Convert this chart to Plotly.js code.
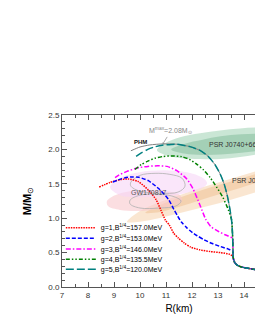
<!DOCTYPE html>
<html><head><meta charset="utf-8">
<script src="https://cdn.plot.ly/plotly-3.0.1.min.js"></script>
<style>html,body{margin:0;padding:0;overflow:hidden;background:#fff;width:255px;height:330px}#chart{width:310px;height:330px}</style>
</head><body><div id="chart"></div><script>
// ---- curve data (R in km, M in solar masses) ----
const tailR = [13.58, 13.60, 13.65, 13.75, 13.90, 14.10, 14.42, 15.00, 15.60, 16.30];
const tailM = [0.445, 0.40, 0.35, 0.315, 0.29, 0.275, 0.255, 0.23, 0.21, 0.19];

const phmR = [9.65, 10.0, 10.38, 10.88, 11.42, 11.92, 12.31, 12.62, 12.88, 13.08, 13.23, 13.35, 13.44, 13.52, 13.56, 13.575];
const phmM = [1.98, 2.035, 2.065, 2.08, 2.075, 2.04, 1.985, 1.90, 1.78, 1.645, 1.505, 1.34, 1.17, 0.98, 0.76, 0.55];

const g1R = [8.43, 8.85, 9.23, 9.54, 9.92, 10.31, 10.62, 10.80, 10.98, 11.13, 11.30, 11.48, 11.70, 11.95, 12.30, 12.70, 13.10, 13.45];
const g1M = [1.453, 1.52, 1.56, 1.57, 1.535, 1.414, 1.269, 1.12, 0.97, 0.90, 0.78, 0.71, 0.64, 0.58, 0.54, 0.515, 0.50, 0.475];

const g2R = [8.95, 9.30, 9.65, 9.95, 10.32, 10.75, 11.10, 11.30, 11.45, 11.60, 11.80, 12.02, 12.20, 12.45, 12.75, 13.08, 13.40, 13.57];
const g2M = [1.525, 1.575, 1.60, 1.595, 1.545, 1.42, 1.27, 1.13, 1.03, 0.94, 0.86, 0.79, 0.745, 0.69, 0.635, 0.59, 0.55, 0.52];

const g3R = [9.04, 9.20, 9.50, 9.90, 10.30, 10.68, 11.04, 11.42, 11.80, 12.05, 12.22, 12.38, 12.52, 12.72, 12.98, 13.27, 13.55, 13.575];
const g3M = [1.589, 1.63, 1.68, 1.73, 1.753, 1.762, 1.753, 1.69, 1.57, 1.42, 1.27, 1.12, 0.99, 0.88, 0.815, 0.76, 0.71, 0.55];

const g4R = [9.81, 10.05, 10.30, 10.60, 10.90, 11.25, 11.60, 11.90, 12.20, 12.45, 12.70, 12.95, 13.19, 13.40, 13.52, 13.56, 13.575];
const g4M = [1.71, 1.78, 1.83, 1.875, 1.898, 1.905, 1.895, 1.855, 1.78, 1.70, 1.59, 1.45, 1.30, 1.12, 0.98, 0.76, 0.55];

const g5R = [9.85, 10.05, 10.30, 10.55, 10.85, 11.2, 11.42, 11.92, 12.31, 12.62, 12.88, 13.08, 13.23, 13.35, 13.44, 13.52, 13.56, 13.575];
const g5M = [1.90, 1.95, 2.00, 2.035, 2.06, 2.072, 2.075, 2.04, 1.985, 1.90, 1.78, 1.645, 1.505, 1.34, 1.17, 0.98, 0.76, 0.55];

const seriesNames = [
  'g=1,B<sup>1/4</sup>=157.0MeV',
  'g=2,B<sup>1/4</sup>=153.0MeV',
  'g=3,B<sup>1/4</sup>=146.0MeV',
  'g=4,B<sup>1/4</sup>=135.5MeV',
  'g=5,B<sup>1/4</sup>=120.0MeV'
];

const xTickVals = [7, 8, 9, 10, 11, 12, 13, 14];

const j0740OuterR = [10.65, 10.96, 11.54, 12.31, 13.08, 13.85, 14.62, 15.38, 16.15, 16.54, 16.15, 15.38, 14.62, 13.85, 13.08, 12.31, 11.54, 10.96, 10.65];
const j0740OuterM = [1.99, 2.09, 2.176, 2.233, 2.276, 2.304, 2.319, 2.319, 2.29, 2.19, 2.047, 1.976, 1.933, 1.89, 1.86, 1.86, 1.876, 1.919, 1.99];
const j0740InnerR = [11.2, 11.7, 12.4, 13.1, 13.9, 14.7, 15.4, 15.8, 15.4, 14.7, 13.9, 13.1, 12.4, 11.7, 11.2];
const j0740InnerM = [2.0, 2.08, 2.14, 2.19, 2.22, 2.23, 2.22, 2.15, 2.05, 1.99, 1.95, 1.925, 1.92, 1.94, 2.0];

const j0030OuterR = [9.5, 10.0, 10.77, 11.54, 12.31, 13.08, 13.85, 14.62, 15.38, 16.15, 16.54, 16.15, 15.38, 14.62, 13.85, 13.08, 12.31, 11.54, 10.77, 10.0, 9.5];
const j0030OuterM = [0.946, 1.106, 1.236, 1.338, 1.439, 1.526, 1.613, 1.70, 1.772, 1.845, 1.78, 1.583, 1.483, 1.396, 1.309, 1.222, 1.149, 1.077, 1.004, 0.95, 0.946];
const j0030InnerR = [10.2, 10.77, 11.54, 12.31, 13.08, 13.85, 14.62, 15.38, 15.8, 15.38, 14.62, 13.85, 13.08, 12.31, 11.54, 10.77, 10.2];
const j0030InnerM = [1.08, 1.19, 1.30, 1.40, 1.49, 1.575, 1.66, 1.73, 1.72, 1.62, 1.53, 1.44, 1.35, 1.26, 1.17, 1.09, 1.08];

const gwUpperR = [8.85, 9.15, 9.62, 10.38, 11.15, 11.85, 12.38, 12.58, 12.31, 11.73, 10.96, 10.0, 9.23, 8.85];
const gwUpperM = [1.45, 1.565, 1.637, 1.688, 1.695, 1.666, 1.594, 1.508, 1.42, 1.364, 1.321, 1.306, 1.335, 1.45];
const gwLowerR = [8.73, 9.04, 9.62, 10.38, 11.08, 11.54, 11.62, 11.35, 10.77, 10.0, 9.23, 8.77, 8.73];
const gwLowerM = [1.25, 1.335, 1.393, 1.407, 1.393, 1.335, 1.25, 1.177, 1.134, 1.105, 1.12, 1.177, 1.25];

const gwLine1R = [9.65, 10.0, 10.58, 11.15, 11.62, 11.73, 11.46, 10.77, 10.0, 9.65, 9.65];
const gwLine1M = [1.525, 1.623, 1.652, 1.637, 1.58, 1.465, 1.379, 1.364, 1.393, 1.465, 1.525];
const gwLine2R = [9.62, 10.0, 10.77, 11.35, 11.58, 11.38, 10.77, 10.0, 9.62, 9.62];
const gwLine2M = [1.263, 1.335, 1.35, 1.307, 1.249, 1.177, 1.148, 1.148, 1.206, 1.263];

const FONT = 'Liberation Sans, Arial, sans-serif';

function region(x, y, color) {
  return {x: x, y: y, mode: 'lines', fill: 'toself', fillcolor: color,
    line: {width: 0, shape: 'spline', smoothing: 1}, showlegend: false, hoverinfo: 'skip'};
}
function outline(x, y) {
  return {x: x, y: y, mode: 'lines', line: {width: 0.8, color: '#b0b0b0', shape: 'spline', smoothing: 1},
    showlegend: false, hoverinfo: 'skip'};
}
function curve(x, y, name, color, dash, legendId) {
  return {x: x.concat(tailR), y: y.concat(tailM), mode: 'lines', name: name,
    line: {color: color, width: 1.5, dash: dash, shape: 'spline', smoothing: 0.6},
    legend: legendId, showlegend: true};
}

const traces = [
  region(j0030OuterR, j0030OuterM, 'rgba(247,214,178,0.6)'),
  region(j0030InnerR, j0030InnerM, 'rgba(238,186,135,0.45)'),
  region(gwLowerR, gwLowerM, 'rgba(248,200,205,0.6)'),
  region(gwUpperR, gwUpperM, 'rgba(246,214,246,0.6)'),
  region(j0740OuterR, j0740OuterM, 'rgba(150,205,172,0.5)'),
  region(j0740InnerR, j0740InnerM, 'rgba(95,165,125,0.35)'),
  outline(gwLine1R, gwLine1M),
  outline(gwLine2R, gwLine2M),
  {x: phmR.concat(tailR), y: phmM.concat(tailM), mode: 'lines', name: 'PHM',
   line: {color: '#808080', width: 1, shape: 'spline', smoothing: 0.6}, showlegend: false},
  curve(g1R, g1M, seriesNames[0], '#ff0000', '1.5px,1px', 'legend'),
  curve(g2R, g2M, seriesNames[1], '#0000ff', '4px,2px', 'legend2'),
  curve(g3R, g3M, seriesNames[2], '#ff00ff', '5px,2px,1.5px,2px', 'legend3'),
  curve(g4R, g4M, seriesNames[3], '#008000', '4px,2px,1.5px,2px,1.5px,2px', 'legend4'),
  curve(g5R, g5M, seriesNames[4], '#008080', '8px,3px', 'legend5')
];

const legRows = [0.345, 0.283, 0.221, 0.161, 0.103];
function leg(i) {
  return {x: -0.005, y: legRows[i], xanchor: 'left', yanchor: 'middle', bgcolor: 'rgba(0,0,0,0)',
    borderwidth: 0, itemwidth: 30, font: {family: FONT, size: 7, color: '#000'}};
}

const axisCommon = {
  showgrid: false, zeroline: false, showline: true, linecolor: '#555', linewidth: 1,
  mirror: 'allticks', ticks: 'inside', ticklen: 5, tickcolor: '#555', tickwidth: 1,
  tickfont: {family: FONT, size: 8, color: '#333'}
};

const layout = {
  width: 310, height: 330,
  margin: {l: 62, r: 14, t: 115, b: 43},
  paper_bgcolor: '#fff', plot_bgcolor: '#fff',
  font: {family: FONT},
  xaxis: Object.assign({}, axisCommon, {
    range: [7, 16], tickmode: 'array', tickvals: xTickVals,
    minor: {dtick: 0.5, tick0: 7, ticklen: 3, ticks: 'inside', tickcolor: '#555'},
    title: {text: 'R(km)', font: {family: FONT, size: 10, color: '#000'}, standoff: 6}
  }),
  yaxis: Object.assign({}, axisCommon, {
    range: [0, 2.5], dtick: 0.5, tick0: 0, tickformat: '.1f',
    minor: {dtick: 0.1, ticklen: 3, ticks: 'inside', tickcolor: '#555'},
    title: {text: '<b>M/M</b><sub>⊙</sub>', font: {family: FONT, size: 11, color: '#000'}, standoff: 14}
  }),
  legend: leg(0), legend2: leg(1), legend3: leg(2), legend4: leg(3), legend5: leg(4),
  annotations: [
    {x: 10.0, y: 2.104, text: '<b>PHM</b>', showarrow: false, font: {family: FONT, size: 6, color: '#111'}},
    {x: 10.88, y: 2.08, text: 'M<sup>max</sup>=2.08M<sub>⊙</sub>', showarrow: true, ax: 8, ay: -13,
     arrowhead: 1, arrowsize: 0.6, arrowwidth: 0.7, arrowcolor: '#888', font: {family: FONT, size: 7, color: '#888'}},
    {x: 10.35, y: 1.368, text: 'GW170817', showarrow: false, font: {family: FONT, size: 7, color: '#555'}},
    {x: 12.57, y: 2.071, text: 'PSR J0740+6620', xanchor: 'left', showarrow: false, font: {family: FONT, size: 7, color: '#333'}},
    {x: 13.46, y: 1.551, text: 'PSR J0030+0451', xanchor: 'left', showarrow: false, font: {family: FONT, size: 7, color: '#333'}}
  ]
};

Plotly.newPlot('chart', traces, layout, {displayModeBar: false, staticPlot: true});
</script></body></html>
